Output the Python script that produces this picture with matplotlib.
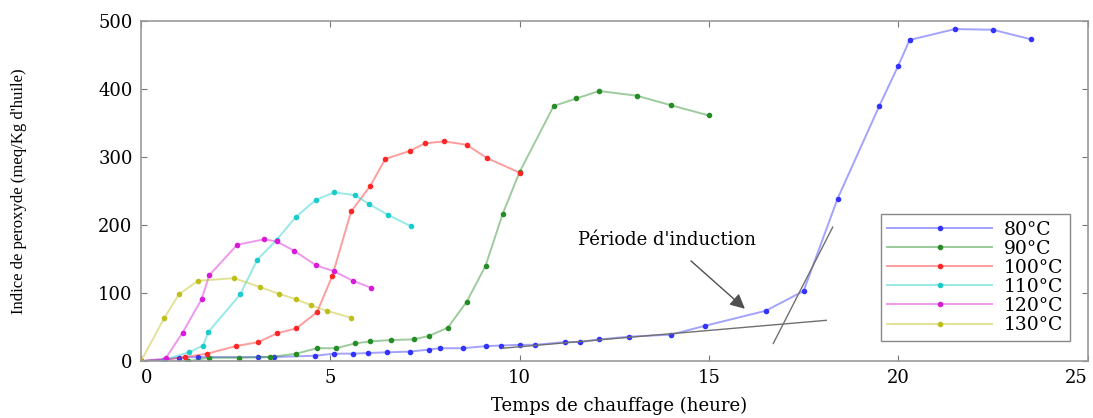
import matplotlib
matplotlib.use("Agg")
import matplotlib.pyplot as plt

# Peroxide index vs heating time, one series per temperature
t_80 = [0, 0.6, 1.0, 1.5, 3.1, 3.5, 4.6, 5.1, 5.6, 6.0, 6.5, 7.1, 7.6, 7.9, 8.5,
        9.1, 9.5, 10.0, 10.4, 11.2, 11.6, 12.1, 12.9, 14.0, 14.9, 16.5, 17.5,
        18.4, 19.5, 20.0, 20.3, 21.5, 22.5, 23.5]
ip_80 = [0, 2, 5, 6, 6, 6, 8, 11, 11, 12, 13, 14, 17, 19, 19, 22, 23, 24, 24,
         28, 28, 32, 36, 39, 52, 74, 103, 239, 375, 434, 472, 488, 487, 473]

t_90 = [0, 0.6, 1.25, 1.8, 2.6, 3.4, 4.1, 4.65, 5.15, 5.65, 6.05, 6.6, 7.2, 7.6,
        8.1, 8.6, 9.1, 9.55, 10.0, 10.9, 11.5, 12.1, 13.1, 14.0, 15.0]
ip_90 = [0, -1, 0, 5, 5, 6, 11, 19, 19, 26, 29, 31, 32, 37, 49, 87, 140, 216,
         278, 375, 386, 397, 390, 376, 361]

t_100 = [0, 0.6, 1.15, 1.75, 2.5, 3.1, 3.6, 4.1, 4.65, 5.05, 5.55, 6.05, 6.45,
         7.1, 7.5, 8.0, 8.6, 9.15, 10.0]
ip_100 = [0, 2, 6, 11, 22, 28, 41, 48, 72, 125, 220, 257, 297, 309, 320, 323,
          318, 298, 277]

t_110 = [0, 0.6, 1.27, 1.64, 1.78, 2.62, 3.07, 3.58, 4.09, 4.62, 5.1, 5.65,
         6.02, 6.52, 7.14]
ip_110 = [0, 2, 13, 23, 43, 98, 149, 178, 212, 237, 248, 244, 231, 215, 198]

t_120 = [0, 0.65, 1.1, 1.6, 1.8, 2.54, 3.25, 3.58, 4.05, 4.62, 5.1, 5.6, 6.07]
ip_120 = [0, 4, 42, 91, 126, 171, 179, 176, 162, 141, 132, 118, 108]

t_130 = [0, 0.61, 1.0, 1.5, 2.46, 3.14, 3.64, 4.09, 4.5, 4.9, 5.54]
ip_130 = [0, 63, 98, 118, 122, 109, 99, 91, 82, 74, 64]

LABELS = ["80°C", "90°C", "100°C", "110°C", "120°C", "130°C"]
SERIES = [(t_80, ip_80), (t_90, ip_90), (t_100, ip_100),
          (t_110, ip_110), (t_120, ip_120), (t_130, ip_130)]
COLORS = [(0.2, 0.2, 1.0), (0.15, 0.55, 0.15), (1.0, 0.15, 0.15),
          (0.1, 0.8, 0.8), (0.85, 0.1, 0.85), (0.75, 0.75, 0.1)]

# Tangents used to read the induction period (80°C)
tan1_x = [9.55, 18.1]
tan1_y = [19, 60]
tan2_x = [16.7, 18.27]
tan2_y = [26, 197]

fig = plt.figure(figsize=(10.93, 4.18), dpi=100)
ax = fig.add_axes([0.129, 0.136, 0.866, 0.814])

for (tx, ty), lab, c in zip(SERIES, LABELS, COLORS):
    ax.plot(tx, ty, color=(*c, 0.45), lw=1.4, marker=".", markersize=6,
            markerfacecolor=c, markeredgecolor=c, label=lab)

ax.plot(tan1_x, tan1_y, color="#707070", lw=1)
ax.plot(tan2_x, tan2_y, color="#707070", lw=1)

ax.annotate("Période d'induction", xy=(15.95, 77), xytext=(13.9, 165),
            ha="center", va="bottom", fontsize=13, family="DejaVu Serif",
            arrowprops=dict(arrowstyle="-|>", color="#505050", lw=1,
                            mutation_scale=22, facecolor="black",
                            shrinkA=10, shrinkB=0))

ax.set_xlim(0, 25)
ax.set_ylim(0, 500)
ax.set_xticks([0, 5, 10, 15, 20, 25])
ax.set_yticks([0, 100, 200, 300, 400, 500])
ax.tick_params(direction="in", top=True, right=True, length=4,
               color="#777777", labelsize=13, pad=6)
for lbl in ax.get_xticklabels() + ax.get_yticklabels():
    lbl.set_family("DejaVu Serif")
ax.get_xticklabels()[-1].set_horizontalalignment("right")
ax.get_xticklabels()[0].set_horizontalalignment("left")
for sp in ax.spines.values():
    sp.set_color("#999999")
    sp.set_linewidth(1.2)

ax.set_xlabel("Temps de chauffage (heure)", family="DejaVu Serif",
              fontsize=13)
ax.xaxis.set_label_coords(0.505, -0.105)
ax.set_ylabel("Indice de peroxyde (meq/Kg d'huile)", family="Liberation Serif",
              fontsize=12)
ax.yaxis.set_label_coords(-0.12, 0.5)

leg = ax.legend(loc="lower right", bbox_to_anchor=(0.981, 0.06),
                prop={"family": "DejaVu Serif", "size": 13.5},
                handlelength=5.6, handletextpad=0.6, labelspacing=0.06,
                borderpad=0.35, fancybox=False, framealpha=1,
                edgecolor="#888888", borderaxespad=0)

fig.savefig("out.png", dpi=100)
